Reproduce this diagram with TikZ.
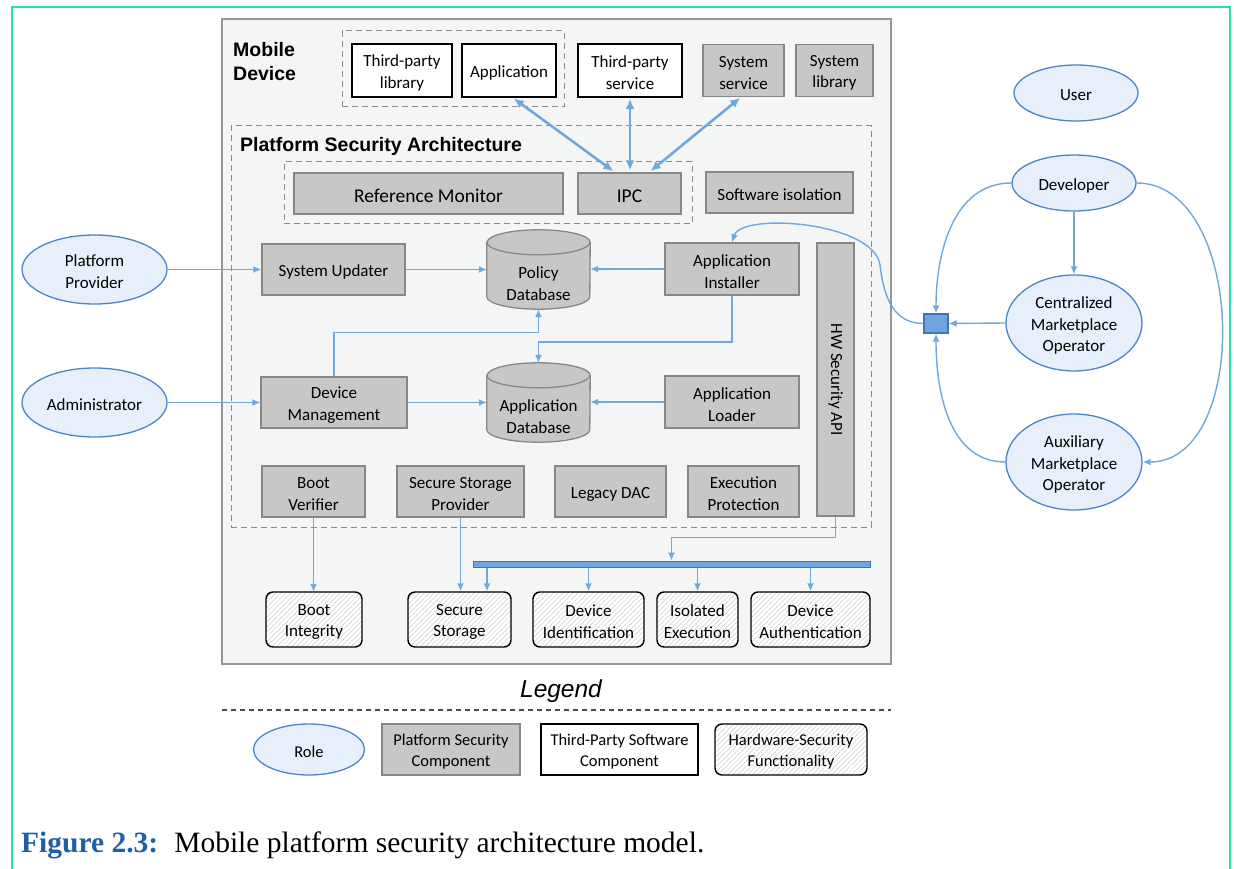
\documentclass[tikz,border=0pt]{standalone}
\usepackage{fontspec}
\setmainfont{Carlito}
\newfontfamily\arialfam{Liberation Sans}
\newfontfamily\timesfam{Liberation Serif}
\usetikzlibrary{shapes.geometric,arrows.meta,patterns.meta,calc}

\definecolor{framegreen}{RGB}{38,226,170}
\definecolor{devfill}{RGB}{244,246,246}
\definecolor{devline}{RGB}{150,150,150}
\definecolor{pscfill}{RGB}{200,199,198}
\definecolor{pscline}{RGB}{135,135,135}
\definecolor{rolefill}{RGB}{231,240,250}
\definecolor{roleline}{RGB}{75,133,200}
\definecolor{flowblue}{RGB}{111,168,220}
\definecolor{busfill}{RGB}{111,165,220}
\definecolor{busline}{RGB}{60,120,180}
\definecolor{dashgray}{RGB}{140,140,140}
\definecolor{capblue}{RGB}{31,95,165}

% cylinder outline drawn over an invisible rectangular node
\newcommand\dbcylinder[1]{%
  \path[fill=pscfill, draw=pscline, line width=1.3pt]
    ($(#1.north west)+(0,-12.5)$) -- ($(#1.south west)+(0,12.5)$)
    arc[start angle=180, end angle=360, x radius=51.5, y radius=12.5]
    -- ($(#1.north east)+(0,-12.5)$)
    arc[start angle=0, end angle=180, x radius=51.5, y radius=12.5] -- cycle;
  \draw[pscline, line width=1.3pt] ($(#1.north west)+(0,-12.5)$)
    arc[start angle=180, end angle=360, x radius=51.5, y radius=12.5];
}

\begin{document}
\begin{tikzpicture}[x=1pt,y=1pt,
  sz/.style 2 args={minimum width=#1pt, minimum height=#2pt},
  cbox/.style={inner sep=0pt, align=center, font=\fontsize{17}{21.7}\selectfont},
  % box labels sit slightly below the geometric centre
  lbl/.style={inner sep=0pt, align=center, yshift=-2.5pt, font=\fontsize{17}{21.7}\selectfont},
  txt/.style={label={[lbl]center:{#1}}},
  bigtxt/.style={label={[lbl, font=\fontsize{19.5}{24}\selectfont]center:{#1}}},
  legtxt/.style={label={[lbl, font=\fontsize{16.5}{21}\selectfont]center:{#1}}},
  psc/.style={inner sep=0pt, draw=pscline, fill=pscfill, line width=1.3pt},
  tpc/.style={inner sep=0pt, draw=black, fill=white, line width=1.8pt},
  hwf/.style={inner sep=0pt, draw=black, line width=1.4pt, rounded corners=7pt,
    preaction={fill=white},
    pattern={Lines[angle=45,distance=3.5pt,line width=0.5pt]}, pattern color=black!20},
  role/.style={inner sep=0pt, ellipse, draw=roleline, fill=rolefill, line width=1.3pt},
  grp/.style={draw=dashgray, line width=1pt, dash pattern=on 6pt off 4pt},
  dbshape/.style={inner sep=0pt},
  flow/.style={draw=flowblue, line width=1.4pt, -{Latex[length=8pt,width=7pt]}},
  ipcflow/.style={draw=flowblue, line width=2.6pt,
    {Latex[length=10pt,width=9pt]}-{Latex[length=10pt,width=9pt]},
    shorten >=2pt, shorten <=1pt},
  titlefont/.style={font=\arialfam\bfseries\fontsize{19.5}{24}\selectfont}
]
\useasboundingbox (0,0) rectangle (1234,-869);

% page frame, open at the bottom
\draw[framegreen, line width=2.2pt] (12,-869) -- (12,-7) -- (1230,-7) -- (1230,-869);

% ---------------- mobile device ----------------
\node[draw=devline, fill=devfill, line width=1.8pt, sz={669}{645}] (device) at (556.5,-341.5) {};
\node[anchor=north west, inner sep=0pt, align=left, titlefont] (devtitle) at (233,-42.5) {Mobile\\Device};

% applications and services
\node[grp, sz={222}{76}] (apps) at (453,-69) {};
\node[tpc, sz={100}{53}, txt={Third-party\\library}] (tplib) at (402,-70.5) {};
\node[tpc, sz={94}{53}, txt={Application}] (app) at (509,-70.5) {};
\node[tpc, sz={104}{53}, txt={Third-party\\service}] (tpserv) at (630,-70.5) {};
\node[psc, sz={81}{52}, txt={System\\service}] (sysserv) at (743.5,-70.5) {};
\node[psc, sz={77}{52}, txt={System\\library}] (syslib) at (834.5,-70.5) {};

% platform security architecture
\node[grp, sz={640}{401}] (psa) at (551,-326.5) {};
\node[anchor=base west, inner sep=0pt, titlefont] (psatitle) at (240,-152) {Platform Security Architecture};

\node[grp, sz={408}{62}] (core) at (488,-193) {};
\node[psc, sz={269}{41}, bigtxt={Reference Monitor}] (refmon) at (428.5,-193.5) {};
\node[psc, sz={103}{41}, bigtxt={IPC}] (ipc) at (629.5,-193.5) {};
\node[psc, sz={147}{41}, txt={Software isolation}] (swiso) at (779.5,-192.5) {};

\node[psc, sz={143}{51}, txt={System Updater}] (sysupd) at (333.5,-269.5) {};
\node[dbshape, sz={103}{79}] (poldb) at (538.5,-269.5) {};
\dbcylinder{poldb}
\node[cbox] (poldbtext) at ($(poldb.center)+(0,-14.5)$) {Policy\\Database};
\node[psc, sz={134}{52}, txt={Application\\Installer}] (appinst) at (732,-269) {};

\node[psc, sz={37}{273}] (hwapi) at (835.5,-379.5) {};
\node[cbox, rotate=-90] (hwapitext) at (hwapi.center) {HW Security API};

\node[psc, sz={146}{51}, txt={Device\\Management}] (devmgmt) at (334,-402.5) {};
\node[dbshape, sz={103}{79}] (appdb) at (538.5,-402.5) {};
\dbcylinder{appdb}
\node[cbox] (appdbtext) at ($(appdb.center)+(0,-14.5)$) {Application\\Database};
\node[psc, sz={134}{52}, txt={Application\\Loader}] (apploader) at (732,-402) {};

\node[psc, sz={103}{51}, txt={Boot\\Verifier}] (bootver) at (313.5,-491.5) {};
\node[psc, sz={127}{51}, txt={Secure Storage\\Provider}] (ssprov) at (460.5,-491.5) {};
\node[psc, sz={111}{51}, txt={Legacy DAC}] (legdac) at (610.5,-491.5) {};
\node[psc, sz={111}{51}, txt={Execution\\Protection}] (execprot) at (743.5,-491.5) {};

% hardware bus and hardware security functions
\node[draw=busline, fill=busfill, line width=1pt, inner sep=0pt, sz={397}{6}] (bus) at (671.5,-564) {};
\node[hwf, sz={96}{55}, txt={Boot\\Integrity}] (bootint) at (314,-619.5) {};
\node[hwf, sz={103}{55}, txt={Secure\\Storage}] (secstor) at (459.5,-619.5) {};
\node[hwf, sz={111}{55}, txt={Device\\Identification}] (devid) at (588.5,-619.5) {};
\node[hwf, sz={81}{55}, txt={Isolated\\Execution}] (isoexec) at (697.5,-619.5) {};
\node[hwf, sz={119}{55}, txt={Device\\Authentication}] (devauth) at (810.5,-619.5) {};

% ---------------- roles ----------------
\node[role, sz={145}{69}, txt={Platform\\Provider}] (platprov) at (94.5,-269.5) {};
\node[role, sz={145}{69}, txt={Administrator}] (admin) at (94.5,-402.5) {};
\node[role, sz={124}{56}, txt={User}] (user) at (1076,-93) {};
\node[role, sz={124}{56}, txt={Developer}] (dev) at (1074,-183) {};
\node[role, sz={136}{96}, txt={Centralized\\Marketplace\\Operator}] (cmo) at (1074,-323) {};
\node[role, sz={136}{96}, txt={Auxiliary\\Marketplace\\Operator}] (aux) at (1074,-462) {};
\node[draw=busline, fill=busfill, line width=1.2pt, inner sep=0pt, sz={24}{19}] (hub) at (936,-323.5) {};

% ---------------- connectors ----------------
\draw[flow] (platprov.east) -- (sysupd.west);
\draw[flow] (admin.east) -- (devmgmt.west);
\draw[flow] (sysupd.east) -- (poldb.west);
\draw[flow] (appinst.west) -- (appinst.west -| poldb.east);
\draw[flow] (devmgmt.east) -- (appdb.west);
\draw[flow] (apploader.west) -- (apploader.west -| appdb.east);
\draw[flow] (devmgmt.north) |- ([yshift=-23pt]poldb.south) -- (poldb.south);
\draw[flow] (appinst.south) |- ([yshift=21pt]appdb.north) -- (appdb.north);
\draw[flow] (bootver.south) -- (bootver.south |- bootint.north);
\draw[flow] (ssprov.south) -- (ssprov.south |- secstor.north);
\draw[flow] (hwapi.south) |- ([yshift=23pt]bus.north) -- (bus.north);

\coordinate (ssin) at ([xshift=27.5pt]secstor.north);
\draw[flow] (ssin |- bus.south) -- (ssin);
\draw[flow] (devid.north |- bus.south) -- (devid.north);
\draw[flow] (isoexec.north |- bus.south) -- (isoexec.north);
\draw[flow] (devauth.north |- bus.south) -- (devauth.north);

% inter-process communication
\coordinate (ipcL) at ([xshift=-14.5pt]ipc.north);
\coordinate (ipcR) at ([xshift=19.5pt]ipc.north);
\coordinate (appout) at ([xshift=4pt]app.south);
\coordinate (ssout) at ([xshift=-2.5pt]sysserv.south);
\draw[ipcflow] (appout) -- (ipcL);
\draw[ipcflow] (tpserv.south) -- (tpserv.south |- ipc.north);
\draw[ipcflow] (ssout) -- (ipcR);

% marketplace side
\draw[flow] (dev.south) -- (cmo.north);
\draw[flow] (cmo.west) -- (hub.east);
\draw[flow] (dev.west) to[out=180,in=90] (hub.north);
\draw[flow] (aux.west) to[out=180,in=-90] (hub.south);
\draw[flow] (dev.east) to[out=0,in=0] (aux.east);
\draw[flow] (hub.west) .. controls (895,-323.5) and (884,-300) .. (880,-265)
  .. controls (874,-222) and (742,-212) .. (appinst.north);

% ---------------- legend ----------------
\node[anchor=base, inner sep=0pt, font=\arialfam\itshape\fontsize{24.5}{28}\selectfont] (legendtitle) at (561,-697) {Legend};
\coordinate (legl) at (222,-710);
\coordinate (legr) at (891,-710);
\draw[black!70, line width=1.2pt, dash pattern=on 5pt off 4pt] (legl) -- (legr);
\node[role, sz={111}{51}, legtxt={Role}] (legrole) at (309,-749.5) {};
\node[psc, sz={138}{51}, legtxt={Platform Security\\Component}] (legpsc) at (451,-749.5) {};
\node[tpc, sz={157}{51}, legtxt={Third-Party Software\\Component}] (legtpc) at (619.5,-749.5) {};
\node[hwf, sz={152}{51}, legtxt={Hardware-Security\\Functionality}] (leghwf) at (791,-749.5) {};

% ---------------- caption ----------------
\node[anchor=base west, inner sep=0pt, font=\timesfam\fontsize{29.5}{34}\selectfont] (caption) at (21,-852)
  {\textcolor{capblue}{\bfseries Figure 2.3:}\hspace{16pt}Mobile platform security architecture model.};
\end{tikzpicture}
\end{document}
